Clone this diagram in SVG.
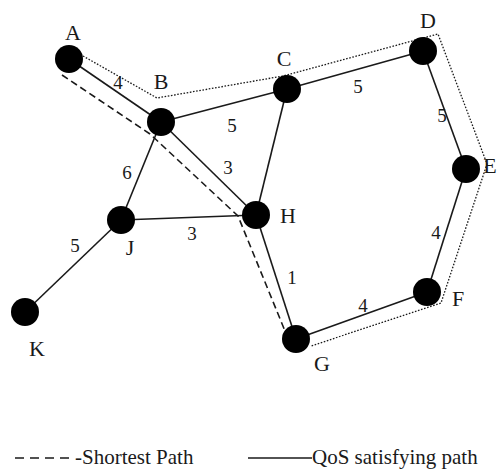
<svg xmlns="http://www.w3.org/2000/svg" width="504" height="470" viewBox="0 0 504 470">
  <style>
    .edge { stroke: #1a1a1a; stroke-width: 1.6; fill: none; }
    .qos { stroke: #1a1a1a; stroke-width: 1.3; fill: none; stroke-dasharray: 1.6 1.6; }
    .short { stroke: #1a1a1a; stroke-width: 1.6; fill: none; stroke-dasharray: 7 4; }
    .node { fill: #000; }
    .nlabel { font-family: "Liberation Serif", "Times New Roman", serif; font-size: 22px; fill: #1a1a1a; text-anchor: middle; }
    .wlabel { font-family: "Liberation Serif", "Times New Roman", serif; font-size: 19px; fill: #1a1a1a; text-anchor: middle; }
    .legend { font-family: "Liberation Serif", "Times New Roman", serif; font-size: 21px; fill: #1a1a1a; }
  </style>

  <!-- graph edges, path highlights and weights -->
  <g id="connectors">
    <line class="edge" x1="69" y1="59" x2="161" y2="122"/>
    <line class="edge" x1="161" y1="122" x2="287" y2="89"/>
    <line class="edge" x1="287" y1="89" x2="423" y2="51"/>
    <line class="edge" x1="423" y1="51" x2="466" y2="169"/>
    <line class="edge" x1="466" y1="169" x2="427" y2="292"/>
    <line class="edge" x1="427" y1="292" x2="296" y2="339"/>
    <line class="edge" x1="296" y1="339" x2="256" y2="215"/>
    <line class="edge" x1="256" y1="215" x2="161" y2="122"/>
    <line class="edge" x1="256" y1="215" x2="287" y2="89"/>
    <line class="edge" x1="161" y1="122" x2="121" y2="220"/>
    <line class="edge" x1="121" y1="220" x2="256" y2="215"/>
    <line class="edge" x1="121" y1="220" x2="25" y2="312"/>

    <!-- QoS satisfying route A-B-C-D-E-F-G, traced outside -->
    <polyline class="qos" points="83,56 157,98 283,76 438,34 487,164 441,303 311,346"/>
    <!-- shortest route A-B-H-G, traced inside -->
    <polyline class="short" points="62,75 150,134 238,216 285,331"/>

    <text class="wlabel" x="118" y="89">4</text>
    <text class="wlabel" x="232" y="132">5</text>
    <text class="wlabel" x="228" y="174">3</text>
    <text class="wlabel" x="358" y="93">5</text>
    <text class="wlabel" x="442" y="122">5</text>
    <text class="wlabel" x="436" y="239">4</text>
    <text class="wlabel" x="363" y="312">4</text>
    <text class="wlabel" x="292" y="284">1</text>
    <text class="wlabel" x="127" y="179">6</text>
    <text class="wlabel" x="192" y="240">3</text>
    <text class="wlabel" x="75" y="252">5</text>
  </g>

  <g id="node-A"><circle class="node" cx="69" cy="59" r="14"/><text class="nlabel" x="73" y="40">A</text></g>
  <g id="node-B"><circle class="node" cx="161" cy="122" r="14"/><text class="nlabel" x="161" y="89">B</text></g>
  <g id="node-C"><circle class="node" cx="287" cy="89" r="14"/><text class="nlabel" x="284" y="66">C</text></g>
  <g id="node-D"><circle class="node" cx="423" cy="51" r="14"/><text class="nlabel" x="428" y="28">D</text></g>
  <g id="node-E"><circle class="node" cx="466" cy="169" r="14"/><text class="nlabel" x="490" y="173" text-anchor="start">E</text></g>
  <g id="node-F"><circle class="node" cx="427" cy="292" r="14"/><text class="nlabel" x="458" y="306">F</text></g>
  <g id="node-G"><circle class="node" cx="296" cy="339" r="14"/><text class="nlabel" x="322" y="371">G</text></g>
  <g id="node-H"><circle class="node" cx="256" cy="215" r="14"/><text class="nlabel" x="288" y="223">H</text></g>
  <g id="node-J"><circle class="node" cx="121" cy="220" r="14"/><text class="nlabel" x="130" y="255">J</text></g>
  <g id="node-K"><circle class="node" cx="25" cy="312" r="14"/><text class="nlabel" x="37" y="356">K</text></g>

  <!-- legend -->
  <g id="legend">
    <line x1="15" y1="458" x2="73" y2="458" stroke="#1a1a1a" stroke-width="1.6" stroke-dasharray="9 6"/>
    <text class="legend" x="75" y="464">-Shortest Path</text>
    <line x1="248" y1="458" x2="312" y2="458" stroke="#1a1a1a" stroke-width="1.6"/>
    <text class="legend" x="312" y="464">QoS satisfying path</text>
  </g>
</svg>
